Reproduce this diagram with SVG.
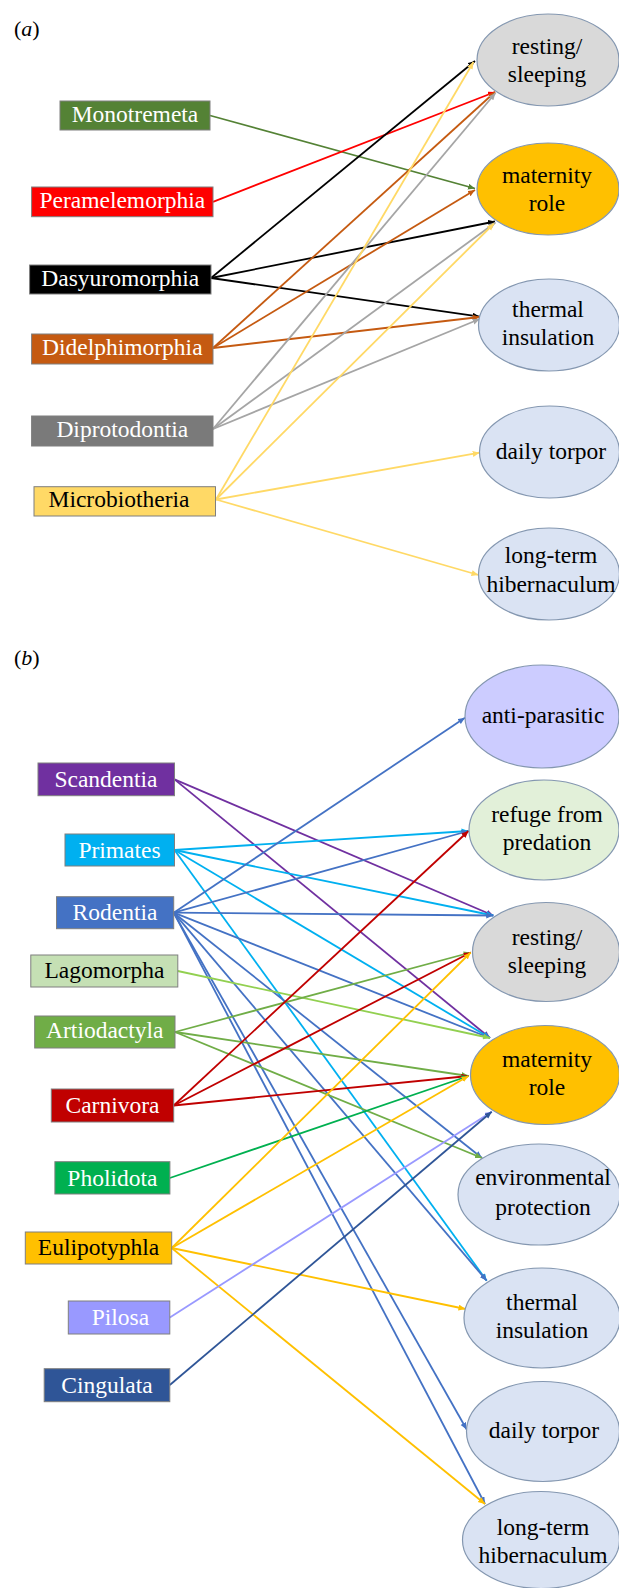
<svg xmlns="http://www.w3.org/2000/svg" width="619" height="1588" viewBox="0 0 619 1588">
<style>
.bx{stroke:#7f7f7f;stroke-width:1}
.el{stroke:#8497b0;stroke-width:1.2}
.t{font-family:"Liberation Serif","Times New Roman",serif;font-size:23.5px;text-anchor:middle}
.w{fill:#fff}
.k{fill:#000}
.lab{font-family:"Liberation Serif","Times New Roman",serif;font-size:22px;fill:#000}
.c{fill:none;stroke-width:1.8}
</style>
<defs>
<marker id="m-mono" markerWidth="8" markerHeight="7" refX="7" refY="3" orient="auto" markerUnits="userSpaceOnUse"><path d="M0,0 L7,3 L0,6 z" fill="#548235"/></marker>
<marker id="m-pera" markerWidth="8" markerHeight="7" refX="7" refY="3" orient="auto" markerUnits="userSpaceOnUse"><path d="M0,0 L7,3 L0,6 z" fill="#ff0000"/></marker>
<marker id="m-dasy" markerWidth="8" markerHeight="7" refX="7" refY="3" orient="auto" markerUnits="userSpaceOnUse"><path d="M0,0 L7,3 L0,6 z" fill="#000000"/></marker>
<marker id="m-didel" markerWidth="8" markerHeight="7" refX="7" refY="3" orient="auto" markerUnits="userSpaceOnUse"><path d="M0,0 L7,3 L0,6 z" fill="#c55a11"/></marker>
<marker id="m-dipro" markerWidth="8" markerHeight="7" refX="7" refY="3" orient="auto" markerUnits="userSpaceOnUse"><path d="M0,0 L7,3 L0,6 z" fill="#a5a5a5"/></marker>
<marker id="m-micro" markerWidth="8" markerHeight="7" refX="7" refY="3" orient="auto" markerUnits="userSpaceOnUse"><path d="M0,0 L7,3 L0,6 z" fill="#ffd966"/></marker>
<marker id="m-scan" markerWidth="8" markerHeight="7" refX="7" refY="3" orient="auto" markerUnits="userSpaceOnUse"><path d="M0,0 L7,3 L0,6 z" fill="#7030a0"/></marker>
<marker id="m-prim" markerWidth="8" markerHeight="7" refX="7" refY="3" orient="auto" markerUnits="userSpaceOnUse"><path d="M0,0 L7,3 L0,6 z" fill="#00b0f0"/></marker>
<marker id="m-rod" markerWidth="8" markerHeight="7" refX="7" refY="3" orient="auto" markerUnits="userSpaceOnUse"><path d="M0,0 L7,3 L0,6 z" fill="#4472c4"/></marker>
<marker id="m-lago" markerWidth="8" markerHeight="7" refX="7" refY="3" orient="auto" markerUnits="userSpaceOnUse"><path d="M0,0 L7,3 L0,6 z" fill="#92d050"/></marker>
<marker id="m-artio" markerWidth="8" markerHeight="7" refX="7" refY="3" orient="auto" markerUnits="userSpaceOnUse"><path d="M0,0 L7,3 L0,6 z" fill="#70ad47"/></marker>
<marker id="m-carn" markerWidth="8" markerHeight="7" refX="7" refY="3" orient="auto" markerUnits="userSpaceOnUse"><path d="M0,0 L7,3 L0,6 z" fill="#c00000"/></marker>
<marker id="m-phol" markerWidth="8" markerHeight="7" refX="7" refY="3" orient="auto" markerUnits="userSpaceOnUse"><path d="M0,0 L7,3 L0,6 z" fill="#00b050"/></marker>
<marker id="m-euli" markerWidth="8" markerHeight="7" refX="7" refY="3" orient="auto" markerUnits="userSpaceOnUse"><path d="M0,0 L7,3 L0,6 z" fill="#ffc000"/></marker>
<marker id="m-pil" markerWidth="8" markerHeight="7" refX="7" refY="3" orient="auto" markerUnits="userSpaceOnUse"><path d="M0,0 L7,3 L0,6 z" fill="#9999ff"/></marker>
<marker id="m-cing" markerWidth="8" markerHeight="7" refX="7" refY="3" orient="auto" markerUnits="userSpaceOnUse"><path d="M0,0 L7,3 L0,6 z" fill="#2f5597"/></marker>
</defs>
<rect width="619" height="1588" fill="#fff"/>

<text class="lab" x="14" y="36">(<tspan font-style="italic">a</tspan>)</text>
<text class="lab" x="14" y="665">(<tspan font-style="italic">b</tspan>)</text>

<g id="connectors">
<!-- panel a -->
<line class="c" stroke="#548235" marker-end="url(#m-mono)" x1="210" y1="115.5" x2="475" y2="188.5"/>
<line class="c" stroke="#ff0000" marker-end="url(#m-pera)" x1="213" y1="201.8" x2="495" y2="92"/>
<line class="c" stroke="#000000" marker-end="url(#m-dasy)" x1="211" y1="278" x2="475" y2="61"/>
<line class="c" stroke="#000000" marker-end="url(#m-dasy)" x1="211" y1="278" x2="495" y2="221.5"/>
<line class="c" stroke="#000000" marker-end="url(#m-dasy)" x1="211" y1="278" x2="479.7" y2="316.7"/>
<line class="c" stroke="#c55a11" marker-end="url(#m-didel)" x1="213" y1="348" x2="495" y2="92"/>
<line class="c" stroke="#c55a11" marker-end="url(#m-didel)" x1="213" y1="348" x2="475" y2="190"/>
<line class="c" stroke="#c55a11" marker-end="url(#m-didel)" x1="213" y1="348" x2="479.7" y2="317"/>
<line class="c" stroke="#a5a5a5" marker-end="url(#m-dipro)" x1="213" y1="429" x2="495.5" y2="93"/>
<line class="c" stroke="#a5a5a5" marker-end="url(#m-dipro)" x1="213" y1="429" x2="495.5" y2="222.5"/>
<line class="c" stroke="#a5a5a5" marker-end="url(#m-dipro)" x1="213" y1="429" x2="479.7" y2="319"/>
<line class="c" stroke="#ffd966" marker-end="url(#m-micro)" x1="216" y1="499.5" x2="473.5" y2="62"/>
<line class="c" stroke="#ffd966" marker-end="url(#m-micro)" x1="216" y1="499.5" x2="494" y2="223.5"/>
<line class="c" stroke="#ffd966" marker-end="url(#m-micro)" x1="216" y1="499.5" x2="479.7" y2="452.7"/>
<line class="c" stroke="#ffd966" marker-end="url(#m-micro)" x1="216" y1="499.5" x2="478.5" y2="575"/>
<!-- panel b -->
<line class="c" stroke="#7030a0" marker-end="url(#m-scan)" x1="174.5" y1="779.4" x2="493.3" y2="915.5"/>
<line class="c" stroke="#7030a0" marker-end="url(#m-scan)" x1="174.5" y1="779.4" x2="490" y2="1038"/>
<line class="c" stroke="#00b0f0" marker-end="url(#m-prim)" x1="174.5" y1="850" x2="468.5" y2="831"/>
<line class="c" stroke="#00b0f0" marker-end="url(#m-prim)" x1="174.5" y1="850" x2="493.3" y2="915.5"/>
<line class="c" stroke="#00b0f0" marker-end="url(#m-prim)" x1="174.5" y1="850" x2="490" y2="1038"/>
<line class="c" stroke="#00b0f0" marker-end="url(#m-prim)" x1="174.5" y1="850" x2="486.7" y2="1280.7"/>
<line class="c" stroke="#4472c4" marker-end="url(#m-rod)" x1="173.7" y1="912.7" x2="465" y2="717.7"/>
<line class="c" stroke="#4472c4" marker-end="url(#m-rod)" x1="173.7" y1="912.7" x2="468.5" y2="831"/>
<line class="c" stroke="#4472c4" marker-end="url(#m-rod)" x1="173.7" y1="912.7" x2="493.3" y2="915.5"/>
<line class="c" stroke="#4472c4" marker-end="url(#m-rod)" x1="173.7" y1="912.7" x2="490" y2="1038"/>
<line class="c" stroke="#4472c4" marker-end="url(#m-rod)" x1="173.7" y1="912.7" x2="482" y2="1158"/>
<line class="c" stroke="#4472c4" marker-end="url(#m-rod)" x1="173.7" y1="912.7" x2="486.7" y2="1280.7"/>
<line class="c" stroke="#4472c4" marker-end="url(#m-rod)" x1="173.7" y1="912.7" x2="466.7" y2="1429.5"/>
<line class="c" stroke="#4472c4" marker-end="url(#m-rod)" x1="173.7" y1="912.7" x2="485" y2="1504"/>
<line class="c" stroke="#92d050" marker-end="url(#m-lago)" x1="177.7" y1="971" x2="490" y2="1038"/>
<line class="c" stroke="#70ad47" marker-end="url(#m-artio)" x1="175" y1="1032" x2="470.7" y2="952.5"/>
<line class="c" stroke="#70ad47" marker-end="url(#m-artio)" x1="175" y1="1032" x2="468.5" y2="1076"/>
<line class="c" stroke="#70ad47" marker-end="url(#m-artio)" x1="175" y1="1032" x2="482" y2="1158"/>
<line class="c" stroke="#c00000" marker-end="url(#m-carn)" x1="173.7" y1="1105.5" x2="468.5" y2="831"/>
<line class="c" stroke="#c00000" marker-end="url(#m-carn)" x1="173.7" y1="1105.5" x2="470.7" y2="952.5"/>
<line class="c" stroke="#c00000" marker-end="url(#m-carn)" x1="173.7" y1="1105.5" x2="468.5" y2="1076"/>
<line class="c" stroke="#00b050" marker-end="url(#m-phol)" x1="169.8" y1="1178" x2="468.5" y2="1076"/>
<line class="c" stroke="#ffc000" marker-end="url(#m-euli)" x1="171.7" y1="1248" x2="470.7" y2="952.5"/>
<line class="c" stroke="#ffc000" marker-end="url(#m-euli)" x1="171.7" y1="1248" x2="468.5" y2="1076"/>
<line class="c" stroke="#ffc000" marker-end="url(#m-euli)" x1="171.7" y1="1248" x2="465.5" y2="1309"/>
<line class="c" stroke="#ffc000" marker-end="url(#m-euli)" x1="171.7" y1="1248" x2="485" y2="1504"/>
<line class="c" stroke="#9999ff" marker-end="url(#m-pil)" x1="169.8" y1="1317.5" x2="491.7" y2="1111.7"/>
<line class="c" stroke="#2f5597" marker-end="url(#m-cing)" x1="169.8" y1="1385" x2="491.7" y2="1111.7"/>
</g>

<!-- panel a nodes -->
<g id="a-monotremeta"><rect class="bx" x="60" y="101" width="150" height="29" fill="#548235"/><text class="t w" x="135" y="122">Monotremeta</text></g>
<g id="a-peramelemorphia"><rect class="bx" x="31.6" y="187" width="181.4" height="29.7" fill="#ff0000"/><text class="t w" x="122.3" y="208">Peramelemorphia</text></g>
<g id="a-dasyuromorphia"><rect class="bx" x="29.6" y="265" width="181.4" height="29" fill="#000000"/><text class="t w" x="120.3" y="286">Dasyuromorphia</text></g>
<g id="a-didelphimorphia"><rect class="bx" x="31.6" y="334" width="181.4" height="30" fill="#c55a11"/><text class="t w" x="122.3" y="355">Didelphimorphia</text></g>
<g id="a-diprotodontia"><rect class="bx" x="31.6" y="416" width="181.4" height="30" fill="#7a7a7a"/><text class="t w" x="122.3" y="437">Diprotodontia</text></g>
<g id="a-microbiotheria"><rect class="bx" x="34" y="486.7" width="181.5" height="29.3" fill="#ffd966"/><text class="t k" x="119" y="507">Microbiotheria</text></g>

<g id="a-resting"><ellipse class="el" cx="548" cy="60" rx="71" ry="46" fill="#d9d9d9"/><text class="t k" x="547" y="54">resting/</text><text class="t k" x="547" y="82">sleeping</text></g>
<g id="a-maternity"><ellipse class="el" cx="548" cy="189" rx="71" ry="46" fill="#ffc000"/><text class="t k" x="547" y="182.5">maternity</text><text class="t k" x="547" y="210.5">role</text></g>
<g id="a-thermal"><ellipse class="el" cx="549" cy="325" rx="70.5" ry="46" fill="#dae3f3"/><text class="t k" x="548" y="317">thermal</text><text class="t k" x="548" y="345">insulation</text></g>
<g id="a-torpor"><ellipse class="el" cx="549.5" cy="452" rx="70" ry="46" fill="#dae3f3"/><text class="t k" x="551" y="459">daily torpor</text></g>
<g id="a-hibernaculum"><ellipse class="el" cx="549" cy="574" rx="70.5" ry="46" fill="#dae3f3"/><text class="t k" x="551" y="563">long-term</text><text class="t k" x="551" y="592">hibernaculum</text></g>

<!-- panel b nodes -->
<g id="b-scandentia"><rect class="bx" x="38" y="763" width="136.5" height="32.7" fill="#7030a0"/><text class="t w" x="106" y="787">Scandentia</text></g>
<g id="b-primates"><rect class="bx" x="65" y="834" width="109.5" height="32" fill="#00b0f0"/><text class="t w" x="119.5" y="858">Primates</text></g>
<g id="b-rodentia"><rect class="bx" x="56.5" y="896.7" width="117.2" height="32" fill="#4472c4"/><text class="t w" x="115" y="920">Rodentia</text></g>
<g id="b-lagomorpha"><rect class="bx" x="30.8" y="955" width="147" height="32" fill="#c5e0b4"/><text class="t k" x="104.5" y="978">Lagomorpha</text></g>
<g id="b-artiodactyla"><rect class="bx" x="34.7" y="1016" width="140.3" height="32" fill="#70ad47"/><text class="t w" x="104.8" y="1038">Artiodactyla</text></g>
<g id="b-carnivora"><rect class="bx" x="51.3" y="1089" width="122.4" height="33" fill="#c00000"/><text class="t w" x="112.5" y="1113">Carnivora</text></g>
<g id="b-pholidota"><rect class="bx" x="54.9" y="1161.7" width="115" height="32.3" fill="#00b050"/><text class="t w" x="112.4" y="1186">Pholidota</text></g>
<g id="b-eulipotyphla"><rect class="bx" x="25.3" y="1232" width="146.4" height="32" fill="#ffc000"/><text class="t k" x="98.5" y="1255">Eulipotyphla</text></g>
<g id="b-pilosa"><rect class="bx" x="68.3" y="1301" width="101.5" height="33" fill="#9999ff"/><text class="t w" x="120.4" y="1325">Pilosa</text></g>
<g id="b-cingulata"><rect class="bx" x="44.2" y="1368.7" width="125.6" height="33" fill="#2f5597"/><text class="t w" x="107" y="1393">Cingulata</text></g>

<g id="b-antiparasitic"><ellipse class="el" cx="542" cy="716.5" rx="77" ry="51.5" fill="#ccccff"/><text class="t k" x="543" y="723">anti-parasitic</text></g>
<g id="b-refuge"><ellipse class="el" cx="544" cy="830" rx="75" ry="50" fill="#e2f0d9"/><text class="t k" x="547" y="822">refuge from</text><text class="t k" x="547" y="850">predation</text></g>
<g id="b-resting"><ellipse class="el" cx="546" cy="952" rx="73.5" ry="49.5" fill="#d9d9d9"/><text class="t k" x="547" y="945">resting/</text><text class="t k" x="547" y="973">sleeping</text></g>
<g id="b-maternity"><ellipse class="el" cx="545" cy="1075" rx="74.5" ry="49.5" fill="#ffc000"/><text class="t k" x="547" y="1067">maternity</text><text class="t k" x="547" y="1095">role</text></g>
<g id="b-environmental"><ellipse class="el" cx="539" cy="1194.5" rx="81" ry="50.5" fill="#dae3f3"/><text class="t k" x="543" y="1185">environmental</text><text class="t k" x="543" y="1215">protection</text></g>
<g id="b-thermal"><ellipse class="el" cx="542" cy="1318" rx="78" ry="50" fill="#dae3f3"/><text class="t k" x="542" y="1310">thermal</text><text class="t k" x="542" y="1338">insulation</text></g>
<g id="b-torpor"><ellipse class="el" cx="543" cy="1431.5" rx="76.5" ry="50" fill="#dae3f3"/><text class="t k" x="544" y="1438">daily torpor</text></g>
<g id="b-hibernaculum"><ellipse class="el" cx="541" cy="1540" rx="78.5" ry="48.5" fill="#dae3f3"/><text class="t k" x="543" y="1535">long-term</text><text class="t k" x="543" y="1563">hibernaculum</text></g>
</svg>
